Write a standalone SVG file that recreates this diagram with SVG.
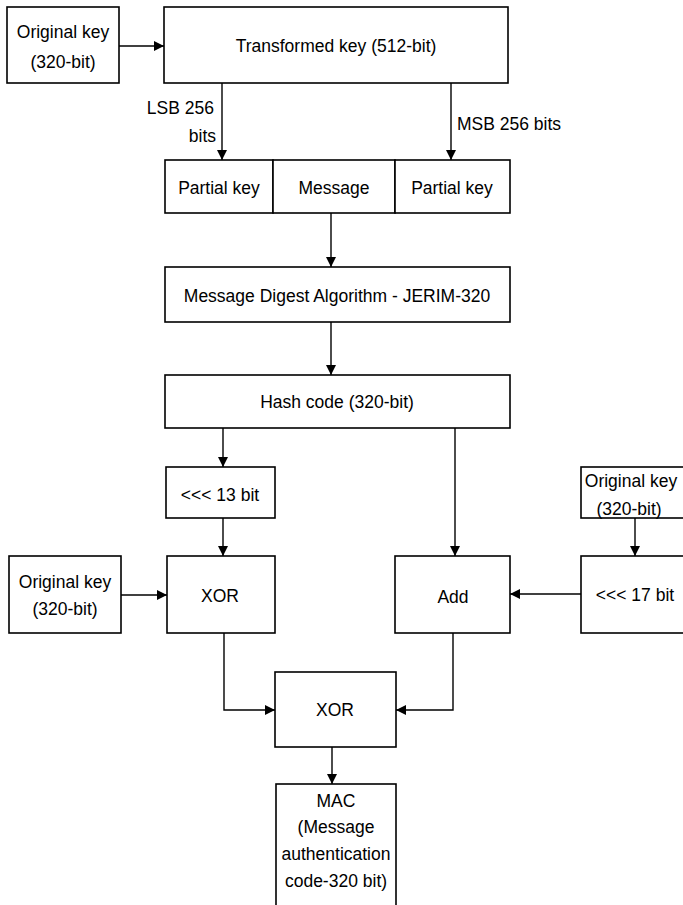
<svg xmlns="http://www.w3.org/2000/svg" width="683" height="905" viewBox="0 0 683 905">
<style>
.box{fill:#fff;stroke:#000;stroke-width:1.6}
.t{font-family:"Liberation Sans",Arial,sans-serif;font-size:17.5px;fill:#000;text-anchor:middle;dominant-baseline:central}
.lbl{font-family:"Liberation Sans",Arial,sans-serif;font-size:17.5px;fill:#000;dominant-baseline:central}
.c{fill:none;stroke:#000;stroke-width:1.4}
</style>
<defs>
<marker id="ah" viewBox="0 0 10 10" refX="10" refY="5" markerWidth="10" markerHeight="10" markerUnits="userSpaceOnUse" orient="auto">
<path d="M0,0 L10,5 L0,10 z" fill="#000"/>
</marker>
</defs>
<rect width="683" height="905" fill="#fff"/>
<g id="connectors">
<path class="c" d="M119,46 H164" marker-end="url(#ah)"/>
<path class="c" d="M222,83 V160" marker-end="url(#ah)"/>
<path class="c" d="M451,83 V160" marker-end="url(#ah)"/>
<path class="c" d="M331,213 V267" marker-end="url(#ah)"/>
<path class="c" d="M331,322 V375" marker-end="url(#ah)"/>
<path class="c" d="M223,428 V467" marker-end="url(#ah)"/>
<path class="c" d="M223,518 V556" marker-end="url(#ah)"/>
<path class="c" d="M455,428 V556" marker-end="url(#ah)"/>
<path class="c" d="M635,518 V556" marker-end="url(#ah)"/>
<path class="c" d="M121,595 H167" marker-end="url(#ah)"/>
<path class="c" d="M581,594 H510" marker-end="url(#ah)"/>
<path class="c" d="M224,633 V710 H275" marker-end="url(#ah)"/>
<path class="c" d="M453,633 V710 H396" marker-end="url(#ah)"/>
<path class="c" d="M332,747 V784" marker-end="url(#ah)"/>
<text class="lbl" x="214" y="108" text-anchor="end">LSB 256</text>
<text class="lbl" x="216" y="136" text-anchor="end">bits</text>
<text class="lbl" x="457" y="124">MSB 256 bits</text>
</g>
<g id="origkey1">
<rect class="box" x="7" y="7" width="112" height="76"/>
<text class="t" x="63" y="32">Original key</text>
<text class="t" x="63" y="62">(320-bit)</text>
</g>
<g id="transformed">
<rect class="box" x="164" y="7" width="344" height="76"/>
<text class="t" x="336" y="46">Transformed key (512-bit)</text>
</g>
<g id="partial1">
<rect class="box" x="165" y="160" width="108" height="53"/>
<text class="t" x="219" y="188">Partial key</text>
</g>
<g id="message">
<rect class="box" x="273" y="160" width="122" height="53"/>
<text class="t" x="334" y="188">Message</text>
</g>
<g id="partial2">
<rect class="box" x="395" y="160" width="115" height="53"/>
<text class="t" x="452" y="188">Partial key</text>
</g>
<g id="digest">
<rect class="box" x="165" y="267" width="345" height="55"/>
<text class="t" x="337" y="296">Message Digest Algorithm - JERIM-320</text>
</g>
<g id="hash">
<rect class="box" x="165" y="375" width="345" height="53"/>
<text class="t" x="337" y="402">Hash code (320-bit)</text>
</g>
<g id="rot13">
<rect class="box" x="166" y="467" width="109" height="51"/>
<text class="t" x="220" y="495">&lt;&lt;&lt; 13 bit</text>
</g>
<g id="origkey3">
<rect class="box" x="581" y="467" width="110" height="51"/>
<text class="t" x="631" y="481">Original key</text>
<text class="t" x="629" y="509">(320-bit)</text>
</g>
<g id="origkey2">
<rect class="box" x="9" y="556" width="112" height="77"/>
<text class="t" x="65" y="582">Original key</text>
<text class="t" x="65" y="609">(320-bit)</text>
</g>
<g id="xor1">
<rect class="box" x="167" y="556" width="108" height="77"/>
<text class="t" x="220" y="596">XOR</text>
</g>
<g id="add">
<rect class="box" x="395" y="556" width="115" height="77"/>
<text class="t" x="453" y="597">Add</text>
</g>
<g id="rot17">
<rect class="box" x="581" y="556" width="110" height="77"/>
<text class="t" x="635" y="595">&lt;&lt;&lt; 17 bit</text>
</g>
<g id="xor2">
<rect class="box" x="275" y="672" width="121" height="75"/>
<text class="t" x="335" y="710">XOR</text>
</g>
<g id="mac">
<rect class="box" x="276" y="784" width="120" height="130"/>
<text class="t" x="336" y="801">MAC</text>
<text class="t" x="336" y="827">(Message</text>
<text class="t" x="336" y="854">authentication</text>
<text class="t" x="336" y="881">code-320 bit)</text>
</g>
</svg>
